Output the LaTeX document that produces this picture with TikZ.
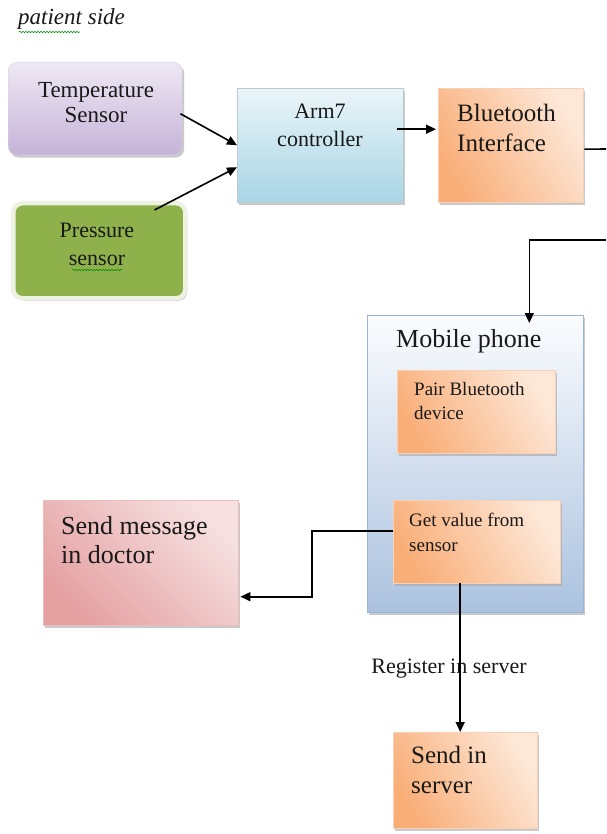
\documentclass[tikz,border=0pt]{standalone}
\usepackage{fontspec}
\setmainfont{Liberation Serif}
\usetikzlibrary{shadows,arrows.meta,decorations.pathmorphing,calc}
\definecolor{orA}{HTML}{F9AE78}
\definecolor{orB}{HTML}{FDE8D8}
\definecolor{orLine}{HTML}{F4B183}
\definecolor{purA}{HTML}{EEE8F4}
\definecolor{purB}{HTML}{C6B3D8}
\definecolor{grn}{HTML}{8FB14C}
\definecolor{grnEdge}{HTML}{EEF2E2}
\definecolor{bluA}{HTML}{EAF5F9}
\definecolor{bluB}{HTML}{A8D5E4}
\definecolor{mobA}{HTML}{FBFCFE}
\definecolor{mobB}{HTML}{ABC2DF}
\definecolor{mobEdge}{HTML}{9AB4D6}
\definecolor{pnkA}{HTML}{E5A0A2}
\definecolor{pnkB}{HTML}{F6E0E0}
\begin{document}
\begin{tikzpicture}[x=1pt,y=-1pt,
  boxshadow/.style={drop shadow={shadow xshift=2pt,shadow yshift=-2.5pt,fill=black!35,opacity=0.6}},
  blk/.style={anchor=north west,inner sep=0pt,boxshadow},
  orbox/.style={blk,left color=orA,right color=orB,shading angle=120,draw=orLine!60,line width=0.4pt},
  txt/.style={inner sep=0pt,text=black!90},
  arr/.style={line width=1.6pt,-{Triangle[length=10pt,width=9pt]}},
  ln/.style={line width=1.6pt},
  squig/.style={decorate,decoration={snake,amplitude=0.8pt,segment length=3pt},draw=green!55!black,line width=0.5pt}
]
\useasboundingbox (0,0) rectangle (606,834);
\fill[white] (0,0) rectangle (606,834);

% patient side
\node[txt,anchor=west,font=\rmfamily\fontsize{23}{26}\selectfont\itshape] (ps) at (18,19) {patient side};
\draw[squig] (19,32) -- (80,32);

% Temperature sensor
\node[blk,minimum width=174pt,minimum height=93pt,rounded corners=9pt,
  top color=purA,bottom color=purB,draw=purB!80!black!40] (temp) at (8,62) {};
\node[txt,align=center,font=\rmfamily\fontsize{23}{25}\selectfont] (tempT) at (96,103) {Temperature\\Sensor};

% Pressure sensor
\node[blk,minimum width=172pt,minimum height=95pt,rounded corners=9pt,
  fill=grn,draw=grnEdge,line width=4.5pt] (pres) at (11,201) {};
\node[txt,align=center,font=\rmfamily\fontsize{22}{28}\selectfont] (presT) at (97,244) {Pressure\\sensor};
\draw[squig] (72,270) -- (122,270);

% Arm7 controller
\node[blk,minimum width=166pt,minimum height=114pt,
  top color=bluA,bottom color=bluB,draw=bluB!70!black!50] (arm) at (237,88) {};
\node[txt,align=center,font=\rmfamily\fontsize{22}{28}\selectfont] (armT) at (320,125) {Arm7\\controller};

% Bluetooth interface
\node[orbox,minimum width=145pt,minimum height=114pt] (bt) at (438,88) {};
\node[txt,anchor=west,align=left,font=\rmfamily\fontsize{25}{30}\selectfont] (btT) at (457,128) {Bluetooth\\Interface};

% Mobile phone
\node[blk,minimum width=216pt,minimum height=297pt,
  top color=mobA,bottom color=mobB,draw=mobEdge,line width=0.6pt] (mob) at (367,315) {};
\node[txt,anchor=west,font=\rmfamily\fontsize{26}{30}\selectfont] (mobT) at (396,341) {Mobile phone};

\node[orbox,minimum width=158pt,minimum height=83pt] (pair) at (397,370) {};
\node[txt,anchor=west,align=left,font=\rmfamily\fontsize{19}{24}\selectfont] (pairT) at (414,401) {Pair Bluetooth\\device};

\node[orbox,minimum width=167pt,minimum height=83pt] (getv) at (393,500) {};
\node[txt,anchor=west,align=left,font=\rmfamily\fontsize{19}{25}\selectfont] (getvT) at (409,532) {Get value from\\sensor};

% Send message in doctor
\node[blk,minimum width=195pt,minimum height=125pt,
  left color=pnkA,right color=pnkB,shading angle=135,draw=pnkA!70,line width=0.4pt] (msg) at (43,500) {};
\node[txt,anchor=west,align=left,font=\rmfamily\fontsize{26}{29}\selectfont] (msgT) at (61,540) {Send message\\in doctor};

% Send in server
\node[orbox,minimum width=144pt,minimum height=96pt] (srv) at (393,732) {};
\node[txt,anchor=west,align=left,font=\rmfamily\fontsize{25}{30}\selectfont] (srvT) at (411,770) {Send in\\server};

% Register label
\node[txt,font=\rmfamily\fontsize{22}{25}\selectfont] (reg) at (449,669) {Register in server};

% coordinates
\coordinate (edgeA) at (606,149);
\coordinate (edgeB) at (606,240);
\coordinate (gs) at ($(getv.south)+(-16.5,0)$);
\coordinate (gw) at ($(getv.west)+(0,-11)$);
\coordinate (bend) at ($(gw)+(-81,0)$);
\coordinate (me) at ($(msg.east)+(2,34)$);

% connectors
\draw[arr] ($(temp.east)+(-2,5)$) -- (arm.west);
\draw[arr] ($(pres.north east)+(-33,9)$) -- ($(arm.west)+(0,22)$);
\draw[arr] ($(arm.east)+(-6,-16)$) -- ($(bt.west)+(-2,-16)$);
\draw[ln] ($(bt.east)+(1,4)$) -- (edgeA);
\draw[arr] (edgeB) -| ($(mob.north)+(54,8)$);
\draw[arr] (gw) -- (bend) |- (me);
\draw[arr] (gs) -- (gs |- srv.north);

\end{tikzpicture}
\end{document}
